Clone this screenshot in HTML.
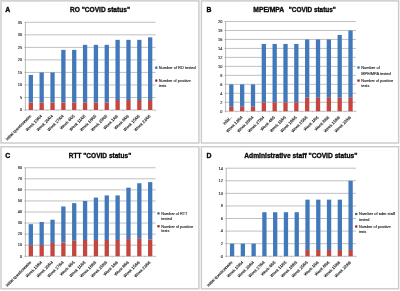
<!DOCTYPE html>
<html><head><meta charset="utf-8"><title>COVID status</title>
<style>
html,body{margin:0;padding:0;background:#fff;}
body{width:400px;height:291px;overflow:hidden;font-family:"Liberation Sans",sans-serif;}
svg{display:block;font-family:"Liberation Sans",sans-serif;}
</style></head><body>
<svg width="400" height="291" viewBox="0 0 400 291">
<defs><filter id="sf" x="0" y="0" width="400" height="291" filterUnits="userSpaceOnUse"><feGaussianBlur stdDeviation="0.32"/></filter></defs>
<rect x="0" y="0" width="400" height="291" fill="#ffffff"/>
<g filter="url(#sf)">
<g>
<rect x="1" y="0.9" width="197.9" height="142.1" fill="#fff" stroke="#cbcbcb" stroke-width="1.45"/>
<path d="M41 138.4H194.1V4.5H41" fill="none" stroke="#f9f9f9" stroke-width="0.6"/>
<text x="5.2" y="11.9" font-size="6.9" font-weight="bold" fill="#080808" stroke="#080808" stroke-width="0.35">A</text>
<text x="70" y="11.7" font-size="6.7" font-weight="bold" fill="#080808" stroke="#080808" stroke-width="0.32" textLength="60" lengthAdjust="spacingAndGlyphs">RO &quot;COVID status&quot;</text>
<line x1="24.4" y1="110" x2="155.6" y2="110" stroke="#b0b0b0" stroke-width="0.8"/>
<text x="22.1" y="111.3" font-size="3.9" text-anchor="end" fill="#242424" stroke="#242424" stroke-width="0.12">0</text>
<line x1="24.4" y1="97.47" x2="155.6" y2="97.47" stroke="#b0b0b0" stroke-width="0.8"/>
<text x="22.1" y="98.77" font-size="3.9" text-anchor="end" fill="#242424" stroke="#242424" stroke-width="0.12">5</text>
<line x1="24.4" y1="84.94" x2="155.6" y2="84.94" stroke="#b0b0b0" stroke-width="0.8"/>
<text x="22.1" y="86.24" font-size="3.9" text-anchor="end" fill="#242424" stroke="#242424" stroke-width="0.12">10</text>
<line x1="24.4" y1="72.41" x2="155.6" y2="72.41" stroke="#b0b0b0" stroke-width="0.8"/>
<text x="22.1" y="73.71" font-size="3.9" text-anchor="end" fill="#242424" stroke="#242424" stroke-width="0.12">15</text>
<line x1="24.4" y1="59.89" x2="155.6" y2="59.89" stroke="#b0b0b0" stroke-width="0.8"/>
<text x="22.1" y="61.19" font-size="3.9" text-anchor="end" fill="#242424" stroke="#242424" stroke-width="0.12">20</text>
<line x1="24.4" y1="47.36" x2="155.6" y2="47.36" stroke="#b0b0b0" stroke-width="0.8"/>
<text x="22.1" y="48.66" font-size="3.9" text-anchor="end" fill="#242424" stroke="#242424" stroke-width="0.12">25</text>
<line x1="24.4" y1="34.83" x2="155.6" y2="34.83" stroke="#b0b0b0" stroke-width="0.8"/>
<text x="22.1" y="36.13" font-size="3.9" text-anchor="end" fill="#242424" stroke="#242424" stroke-width="0.12">30</text>
<line x1="24.4" y1="22.3" x2="155.6" y2="22.3" stroke="#b0b0b0" stroke-width="0.8"/>
<text x="22.1" y="23.6" font-size="3.9" text-anchor="end" fill="#242424" stroke="#242424" stroke-width="0.12">35</text>
<line x1="25.4" y1="22.3" x2="25.4" y2="111" stroke="#8a8a8a" stroke-width="0.6"/>
<line x1="36.25" y1="110" x2="36.25" y2="111" stroke="#8a8a8a" stroke-width="0.5"/>
<rect x="28.68" y="74.92" width="4.3" height="27.56" fill="#4379ba"/>
<rect x="28.68" y="102.48" width="4.3" height="7.52" fill="#c34641"/>
<text transform="translate(30.72 115.5) rotate(-45)" x="0" y="1.2" font-size="4" text-anchor="end" fill="#242424" stroke="#242424" stroke-width="0.15">Initial questionnaire</text>
<line x1="47.1" y1="110" x2="47.1" y2="111" stroke="#8a8a8a" stroke-width="0.5"/>
<rect x="39.52" y="72.41" width="4.3" height="30.07" fill="#4379ba"/>
<rect x="39.52" y="102.48" width="4.3" height="7.52" fill="#c34641"/>
<text transform="translate(41.57 115.5) rotate(-45)" x="0" y="1.2" font-size="4" text-anchor="end" fill="#242424" stroke="#242424" stroke-width="0.15">Week 13/04</text>
<line x1="57.95" y1="110" x2="57.95" y2="111" stroke="#8a8a8a" stroke-width="0.5"/>
<rect x="50.38" y="72.41" width="4.3" height="30.07" fill="#4379ba"/>
<rect x="50.38" y="102.48" width="4.3" height="7.52" fill="#c34641"/>
<text transform="translate(52.42 115.5) rotate(-45)" x="0" y="1.2" font-size="4" text-anchor="end" fill="#242424" stroke="#242424" stroke-width="0.15">Week 20/04</text>
<line x1="68.8" y1="110" x2="68.8" y2="111" stroke="#8a8a8a" stroke-width="0.5"/>
<rect x="61.23" y="49.86" width="4.3" height="52.62" fill="#4379ba"/>
<rect x="61.23" y="102.48" width="4.3" height="7.52" fill="#c34641"/>
<text transform="translate(63.27 115.5) rotate(-45)" x="0" y="1.2" font-size="4" text-anchor="end" fill="#242424" stroke="#242424" stroke-width="0.15">Week 27/04</text>
<line x1="79.65" y1="110" x2="79.65" y2="111" stroke="#8a8a8a" stroke-width="0.5"/>
<rect x="72.07" y="49.86" width="4.3" height="52.62" fill="#4379ba"/>
<rect x="72.07" y="102.48" width="4.3" height="7.52" fill="#c34641"/>
<text transform="translate(74.12 115.5) rotate(-45)" x="0" y="1.2" font-size="4" text-anchor="end" fill="#242424" stroke="#242424" stroke-width="0.15">Week 4/05</text>
<line x1="90.5" y1="110" x2="90.5" y2="111" stroke="#8a8a8a" stroke-width="0.5"/>
<rect x="82.92" y="44.85" width="4.3" height="57.63" fill="#4379ba"/>
<rect x="82.92" y="102.48" width="4.3" height="7.52" fill="#c34641"/>
<text transform="translate(84.97 115.5) rotate(-45)" x="0" y="1.2" font-size="4" text-anchor="end" fill="#242424" stroke="#242424" stroke-width="0.15">Week 11/05</text>
<line x1="101.35" y1="110" x2="101.35" y2="111" stroke="#8a8a8a" stroke-width="0.5"/>
<rect x="93.77" y="44.85" width="4.3" height="57.63" fill="#4379ba"/>
<rect x="93.77" y="102.48" width="4.3" height="7.52" fill="#c34641"/>
<text transform="translate(95.82 115.5) rotate(-45)" x="0" y="1.2" font-size="4" text-anchor="end" fill="#242424" stroke="#242424" stroke-width="0.15">Week 18/05</text>
<line x1="112.2" y1="110" x2="112.2" y2="111" stroke="#8a8a8a" stroke-width="0.5"/>
<rect x="104.62" y="44.85" width="4.3" height="57.63" fill="#4379ba"/>
<rect x="104.62" y="102.48" width="4.3" height="7.52" fill="#c34641"/>
<text transform="translate(106.68 115.5) rotate(-45)" x="0" y="1.2" font-size="4" text-anchor="end" fill="#242424" stroke="#242424" stroke-width="0.15">Week 25/05</text>
<line x1="123.05" y1="110" x2="123.05" y2="111" stroke="#8a8a8a" stroke-width="0.5"/>
<rect x="115.47" y="39.84" width="4.3" height="60.14" fill="#4379ba"/>
<rect x="115.47" y="99.98" width="4.3" height="10.02" fill="#c34641"/>
<text transform="translate(117.53 115.5) rotate(-45)" x="0" y="1.2" font-size="4" text-anchor="end" fill="#242424" stroke="#242424" stroke-width="0.15">Week 1/06</text>
<line x1="133.9" y1="110" x2="133.9" y2="111" stroke="#8a8a8a" stroke-width="0.5"/>
<rect x="126.32" y="39.84" width="4.3" height="60.14" fill="#4379ba"/>
<rect x="126.32" y="99.98" width="4.3" height="10.02" fill="#c34641"/>
<text transform="translate(128.38 115.5) rotate(-45)" x="0" y="1.2" font-size="4" text-anchor="end" fill="#242424" stroke="#242424" stroke-width="0.15">Week 8/06</text>
<line x1="144.75" y1="110" x2="144.75" y2="111" stroke="#8a8a8a" stroke-width="0.5"/>
<rect x="137.17" y="39.84" width="4.3" height="60.14" fill="#4379ba"/>
<rect x="137.17" y="99.98" width="4.3" height="10.02" fill="#c34641"/>
<text transform="translate(139.22 115.5) rotate(-45)" x="0" y="1.2" font-size="4" text-anchor="end" fill="#242424" stroke="#242424" stroke-width="0.15">Week 15/06</text>
<line x1="155.6" y1="110" x2="155.6" y2="111" stroke="#8a8a8a" stroke-width="0.5"/>
<rect x="148.02" y="37.33" width="4.3" height="62.64" fill="#4379ba"/>
<rect x="148.02" y="99.98" width="4.3" height="10.02" fill="#c34641"/>
<text transform="translate(150.07 115.5) rotate(-45)" x="0" y="1.2" font-size="4" text-anchor="end" fill="#242424" stroke="#242424" stroke-width="0.15">Week 22/06</text>
<rect x="155.2" y="66.6" width="2.2" height="2.2" fill="#2f5f9e"/>
<text x="158.8" y="69" font-size="3.8" fill="#242424" stroke="#242424" stroke-width="0.12" textLength="36.8" lengthAdjust="spacingAndGlyphs">Number of RO tested</text>
<rect x="155.2" y="79.5" width="2.2" height="2.2" fill="#901f1c"/>
<text x="158.8" y="81.9" font-size="3.8" fill="#242424" stroke="#242424" stroke-width="0.12" textLength="31.8" lengthAdjust="spacingAndGlyphs">Number of positive</text>
<text x="158.8" y="86.7" font-size="3.8" fill="#242424" stroke="#242424" stroke-width="0.12" textLength="7.5" lengthAdjust="spacingAndGlyphs">tests</text>
</g>
<g>
<rect x="201.4" y="0.9" width="197.2" height="142.1" fill="#fff" stroke="#cbcbcb" stroke-width="1.45"/>
<path d="M241.4 138.4H393.8V4.5H241.4" fill="none" stroke="#f9f9f9" stroke-width="0.6"/>
<text x="206.5" y="12.1" font-size="6.9" font-weight="bold" fill="#080808" stroke="#080808" stroke-width="0.35">B</text>
<text x="253.3" y="11.9" font-size="6.7" font-weight="bold" fill="#080808" stroke="#080808" stroke-width="0.32" textLength="30.9" lengthAdjust="spacingAndGlyphs">MPE/MPA</text>
<text x="288.7" y="11.9" font-size="6.7" font-weight="bold" fill="#080808" stroke="#080808" stroke-width="0.32" textLength="47.2" lengthAdjust="spacingAndGlyphs">&quot;COVID status&quot;</text>
<line x1="224.6" y1="111.25" x2="355.95" y2="111.25" stroke="#b0b0b0" stroke-width="0.8"/>
<text x="222.3" y="112.55" font-size="3.9" text-anchor="end" fill="#242424" stroke="#242424" stroke-width="0.12">0</text>
<line x1="224.6" y1="102.28" x2="355.95" y2="102.28" stroke="#b0b0b0" stroke-width="0.8"/>
<text x="222.3" y="103.58" font-size="3.9" text-anchor="end" fill="#242424" stroke="#242424" stroke-width="0.12">2</text>
<line x1="224.6" y1="93.3" x2="355.95" y2="93.3" stroke="#b0b0b0" stroke-width="0.8"/>
<text x="222.3" y="94.6" font-size="3.9" text-anchor="end" fill="#242424" stroke="#242424" stroke-width="0.12">4</text>
<line x1="224.6" y1="84.33" x2="355.95" y2="84.33" stroke="#b0b0b0" stroke-width="0.8"/>
<text x="222.3" y="85.62" font-size="3.9" text-anchor="end" fill="#242424" stroke="#242424" stroke-width="0.12">6</text>
<line x1="224.6" y1="75.35" x2="355.95" y2="75.35" stroke="#b0b0b0" stroke-width="0.8"/>
<text x="222.3" y="76.65" font-size="3.9" text-anchor="end" fill="#242424" stroke="#242424" stroke-width="0.12">8</text>
<line x1="224.6" y1="66.38" x2="355.95" y2="66.38" stroke="#b0b0b0" stroke-width="0.8"/>
<text x="222.3" y="67.67" font-size="3.9" text-anchor="end" fill="#242424" stroke="#242424" stroke-width="0.12">10</text>
<line x1="224.6" y1="57.4" x2="355.95" y2="57.4" stroke="#b0b0b0" stroke-width="0.8"/>
<text x="222.3" y="58.7" font-size="3.9" text-anchor="end" fill="#242424" stroke="#242424" stroke-width="0.12">12</text>
<line x1="224.6" y1="48.43" x2="355.95" y2="48.43" stroke="#b0b0b0" stroke-width="0.8"/>
<text x="222.3" y="49.73" font-size="3.9" text-anchor="end" fill="#242424" stroke="#242424" stroke-width="0.12">14</text>
<line x1="224.6" y1="39.45" x2="355.95" y2="39.45" stroke="#b0b0b0" stroke-width="0.8"/>
<text x="222.3" y="40.75" font-size="3.9" text-anchor="end" fill="#242424" stroke="#242424" stroke-width="0.12">16</text>
<line x1="224.6" y1="30.48" x2="355.95" y2="30.48" stroke="#b0b0b0" stroke-width="0.8"/>
<text x="222.3" y="31.78" font-size="3.9" text-anchor="end" fill="#242424" stroke="#242424" stroke-width="0.12">18</text>
<line x1="224.6" y1="21.5" x2="355.95" y2="21.5" stroke="#b0b0b0" stroke-width="0.8"/>
<text x="222.3" y="22.8" font-size="3.9" text-anchor="end" fill="#242424" stroke="#242424" stroke-width="0.12">20</text>
<line x1="225.6" y1="21.5" x2="225.6" y2="112.25" stroke="#8a8a8a" stroke-width="0.6"/>
<line x1="236.74" y1="111.25" x2="236.74" y2="112.25" stroke="#8a8a8a" stroke-width="0.5"/>
<rect x="229.17" y="84.33" width="4.3" height="22.44" fill="#4379ba"/>
<rect x="229.17" y="106.76" width="4.3" height="4.49" fill="#c34641"/>
<text transform="translate(231.22 116.75) rotate(-45)" x="0" y="1.2" font-size="4" text-anchor="end" fill="#242424" stroke="#242424" stroke-width="0.15" textLength="10.6" lengthAdjust="spacingAndGlyphs">Initial...</text>
<line x1="247.57" y1="111.25" x2="247.57" y2="112.25" stroke="#8a8a8a" stroke-width="0.5"/>
<rect x="240.01" y="84.33" width="4.3" height="22.44" fill="#4379ba"/>
<rect x="240.01" y="106.76" width="4.3" height="4.49" fill="#c34641"/>
<text transform="translate(242.06 116.75) rotate(-45)" x="0" y="1.2" font-size="4" text-anchor="end" fill="#242424" stroke="#242424" stroke-width="0.15">Week 13/04</text>
<line x1="258.41" y1="111.25" x2="258.41" y2="112.25" stroke="#8a8a8a" stroke-width="0.5"/>
<rect x="250.84" y="84.33" width="4.3" height="22.44" fill="#4379ba"/>
<rect x="250.84" y="106.76" width="4.3" height="4.49" fill="#c34641"/>
<text transform="translate(252.89 116.75) rotate(-45)" x="0" y="1.2" font-size="4" text-anchor="end" fill="#242424" stroke="#242424" stroke-width="0.15">Week 20/04</text>
<line x1="269.25" y1="111.25" x2="269.25" y2="112.25" stroke="#8a8a8a" stroke-width="0.5"/>
<rect x="261.68" y="43.94" width="4.3" height="58.34" fill="#4379ba"/>
<rect x="261.68" y="102.28" width="4.3" height="8.97" fill="#c34641"/>
<text transform="translate(263.73 116.75) rotate(-45)" x="0" y="1.2" font-size="4" text-anchor="end" fill="#242424" stroke="#242424" stroke-width="0.15">Week 27/04</text>
<line x1="280.09" y1="111.25" x2="280.09" y2="112.25" stroke="#8a8a8a" stroke-width="0.5"/>
<rect x="272.52" y="43.94" width="4.3" height="58.34" fill="#4379ba"/>
<rect x="272.52" y="102.28" width="4.3" height="8.97" fill="#c34641"/>
<text transform="translate(274.57 116.75) rotate(-45)" x="0" y="1.2" font-size="4" text-anchor="end" fill="#242424" stroke="#242424" stroke-width="0.15">Week 4/05</text>
<line x1="290.93" y1="111.25" x2="290.93" y2="112.25" stroke="#8a8a8a" stroke-width="0.5"/>
<rect x="283.36" y="43.94" width="4.3" height="58.34" fill="#4379ba"/>
<rect x="283.36" y="102.28" width="4.3" height="8.97" fill="#c34641"/>
<text transform="translate(285.41 116.75) rotate(-45)" x="0" y="1.2" font-size="4" text-anchor="end" fill="#242424" stroke="#242424" stroke-width="0.15">Week 11/05</text>
<line x1="301.76" y1="111.25" x2="301.76" y2="112.25" stroke="#8a8a8a" stroke-width="0.5"/>
<rect x="294.19" y="43.94" width="4.3" height="58.34" fill="#4379ba"/>
<rect x="294.19" y="102.28" width="4.3" height="8.97" fill="#c34641"/>
<text transform="translate(296.24 116.75) rotate(-45)" x="0" y="1.2" font-size="4" text-anchor="end" fill="#242424" stroke="#242424" stroke-width="0.15">Week 18/05</text>
<line x1="312.6" y1="111.25" x2="312.6" y2="112.25" stroke="#8a8a8a" stroke-width="0.5"/>
<rect x="305.03" y="39.45" width="4.3" height="58.34" fill="#4379ba"/>
<rect x="305.03" y="97.79" width="4.3" height="13.46" fill="#c34641"/>
<text transform="translate(307.08 116.75) rotate(-45)" x="0" y="1.2" font-size="4" text-anchor="end" fill="#242424" stroke="#242424" stroke-width="0.15">Week 25/05</text>
<line x1="323.44" y1="111.25" x2="323.44" y2="112.25" stroke="#8a8a8a" stroke-width="0.5"/>
<rect x="315.87" y="39.45" width="4.3" height="58.34" fill="#4379ba"/>
<rect x="315.87" y="97.79" width="4.3" height="13.46" fill="#c34641"/>
<text transform="translate(317.92 116.75) rotate(-45)" x="0" y="1.2" font-size="4" text-anchor="end" fill="#242424" stroke="#242424" stroke-width="0.15">Week 1/06</text>
<line x1="334.27" y1="111.25" x2="334.27" y2="112.25" stroke="#8a8a8a" stroke-width="0.5"/>
<rect x="326.71" y="39.45" width="4.3" height="58.34" fill="#4379ba"/>
<rect x="326.71" y="97.79" width="4.3" height="13.46" fill="#c34641"/>
<text transform="translate(328.76 116.75) rotate(-45)" x="0" y="1.2" font-size="4" text-anchor="end" fill="#242424" stroke="#242424" stroke-width="0.15">Week 8/06</text>
<line x1="345.11" y1="111.25" x2="345.11" y2="112.25" stroke="#8a8a8a" stroke-width="0.5"/>
<rect x="337.54" y="34.96" width="4.3" height="62.82" fill="#4379ba"/>
<rect x="337.54" y="97.79" width="4.3" height="13.46" fill="#c34641"/>
<text transform="translate(339.59 116.75) rotate(-45)" x="0" y="1.2" font-size="4" text-anchor="end" fill="#242424" stroke="#242424" stroke-width="0.15">Week 15/06</text>
<line x1="355.95" y1="111.25" x2="355.95" y2="112.25" stroke="#8a8a8a" stroke-width="0.5"/>
<rect x="348.38" y="30.48" width="4.3" height="67.31" fill="#4379ba"/>
<rect x="348.38" y="97.79" width="4.3" height="13.46" fill="#c34641"/>
<text transform="translate(350.43 116.75) rotate(-45)" x="0" y="1.2" font-size="4" text-anchor="end" fill="#242424" stroke="#242424" stroke-width="0.15">Week 22/06</text>
<rect x="357.4" y="66.4" width="2.2" height="2.2" fill="#2f5f9e"/>
<text x="361.25" y="68.8" font-size="3.8" fill="#242424" stroke="#242424" stroke-width="0.12" textLength="18.5" lengthAdjust="spacingAndGlyphs">Number of</text>
<text x="361.25" y="74.5" font-size="3.8" fill="#242424" stroke="#242424" stroke-width="0.12" textLength="29.4" lengthAdjust="spacingAndGlyphs">MPE/MPA tested</text>
<rect x="357.4" y="79.5" width="2.2" height="2.2" fill="#901f1c"/>
<text x="361.25" y="81.9" font-size="3.8" fill="#242424" stroke="#242424" stroke-width="0.12" textLength="31.8" lengthAdjust="spacingAndGlyphs">Number of positive</text>
<text x="361.25" y="86.7" font-size="3.8" fill="#242424" stroke="#242424" stroke-width="0.12" textLength="8.1" lengthAdjust="spacingAndGlyphs">tests</text>
</g>
<g>
<rect x="1" y="146.8" width="197.9" height="142" fill="#fff" stroke="#cbcbcb" stroke-width="1.45"/>
<path d="M41 284.2H194.1V150.4H41" fill="none" stroke="#f9f9f9" stroke-width="0.6"/>
<text x="5.2" y="158.2" font-size="6.9" font-weight="bold" fill="#080808" stroke="#080808" stroke-width="0.35">C</text>
<text x="68.75" y="158" font-size="6.7" font-weight="bold" fill="#080808" stroke="#080808" stroke-width="0.32" textLength="62.5" lengthAdjust="spacingAndGlyphs">RTT &quot;COVID status&quot;</text>
<line x1="24.4" y1="256.25" x2="155.6" y2="256.25" stroke="#b0b0b0" stroke-width="0.8"/>
<text x="22.1" y="257.55" font-size="3.9" text-anchor="end" fill="#242424" stroke="#242424" stroke-width="0.12">0</text>
<line x1="24.4" y1="245.19" x2="155.6" y2="245.19" stroke="#b0b0b0" stroke-width="0.8"/>
<text x="22.1" y="246.49" font-size="3.9" text-anchor="end" fill="#242424" stroke="#242424" stroke-width="0.12">10</text>
<line x1="24.4" y1="234.12" x2="155.6" y2="234.12" stroke="#b0b0b0" stroke-width="0.8"/>
<text x="22.1" y="235.43" font-size="3.9" text-anchor="end" fill="#242424" stroke="#242424" stroke-width="0.12">20</text>
<line x1="24.4" y1="223.06" x2="155.6" y2="223.06" stroke="#b0b0b0" stroke-width="0.8"/>
<text x="22.1" y="224.36" font-size="3.9" text-anchor="end" fill="#242424" stroke="#242424" stroke-width="0.12">30</text>
<line x1="24.4" y1="212" x2="155.6" y2="212" stroke="#b0b0b0" stroke-width="0.8"/>
<text x="22.1" y="213.3" font-size="3.9" text-anchor="end" fill="#242424" stroke="#242424" stroke-width="0.12">40</text>
<line x1="24.4" y1="200.94" x2="155.6" y2="200.94" stroke="#b0b0b0" stroke-width="0.8"/>
<text x="22.1" y="202.24" font-size="3.9" text-anchor="end" fill="#242424" stroke="#242424" stroke-width="0.12">50</text>
<line x1="24.4" y1="189.88" x2="155.6" y2="189.88" stroke="#b0b0b0" stroke-width="0.8"/>
<text x="22.1" y="191.18" font-size="3.9" text-anchor="end" fill="#242424" stroke="#242424" stroke-width="0.12">60</text>
<line x1="24.4" y1="178.81" x2="155.6" y2="178.81" stroke="#b0b0b0" stroke-width="0.8"/>
<text x="22.1" y="180.11" font-size="3.9" text-anchor="end" fill="#242424" stroke="#242424" stroke-width="0.12">70</text>
<line x1="24.4" y1="167.75" x2="155.6" y2="167.75" stroke="#b0b0b0" stroke-width="0.8"/>
<text x="22.1" y="169.05" font-size="3.9" text-anchor="end" fill="#242424" stroke="#242424" stroke-width="0.12">80</text>
<line x1="25.4" y1="167.75" x2="25.4" y2="257.25" stroke="#8a8a8a" stroke-width="0.6"/>
<line x1="36.25" y1="256.25" x2="36.25" y2="257.25" stroke="#8a8a8a" stroke-width="0.5"/>
<rect x="28.68" y="224.17" width="4.3" height="21.02" fill="#4379ba"/>
<rect x="28.68" y="245.19" width="4.3" height="11.06" fill="#c34641"/>
<text transform="translate(30.72 261.75) rotate(-45)" x="0" y="1.2" font-size="4" text-anchor="end" fill="#242424" stroke="#242424" stroke-width="0.15">Initial questionnaire</text>
<line x1="47.1" y1="256.25" x2="47.1" y2="257.25" stroke="#8a8a8a" stroke-width="0.5"/>
<rect x="39.52" y="221.96" width="4.3" height="23.01" fill="#4379ba"/>
<rect x="39.52" y="244.97" width="4.3" height="11.28" fill="#c34641"/>
<text transform="translate(41.57 261.75) rotate(-45)" x="0" y="1.2" font-size="4" text-anchor="end" fill="#242424" stroke="#242424" stroke-width="0.15">Week 13/04</text>
<line x1="57.95" y1="256.25" x2="57.95" y2="257.25" stroke="#8a8a8a" stroke-width="0.5"/>
<rect x="50.38" y="219.74" width="4.3" height="23.23" fill="#4379ba"/>
<rect x="50.38" y="242.97" width="4.3" height="13.27" fill="#c34641"/>
<text transform="translate(52.42 261.75) rotate(-45)" x="0" y="1.2" font-size="4" text-anchor="end" fill="#242424" stroke="#242424" stroke-width="0.15">Week 20/04</text>
<line x1="68.8" y1="256.25" x2="68.8" y2="257.25" stroke="#8a8a8a" stroke-width="0.5"/>
<rect x="61.23" y="206.47" width="4.3" height="36.06" fill="#4379ba"/>
<rect x="61.23" y="242.53" width="4.3" height="13.72" fill="#c34641"/>
<text transform="translate(63.27 261.75) rotate(-45)" x="0" y="1.2" font-size="4" text-anchor="end" fill="#242424" stroke="#242424" stroke-width="0.15">Week 27/04</text>
<line x1="79.65" y1="256.25" x2="79.65" y2="257.25" stroke="#8a8a8a" stroke-width="0.5"/>
<rect x="72.07" y="203.15" width="4.3" height="37.61" fill="#4379ba"/>
<rect x="72.07" y="240.76" width="4.3" height="15.49" fill="#c34641"/>
<text transform="translate(74.12 261.75) rotate(-45)" x="0" y="1.2" font-size="4" text-anchor="end" fill="#242424" stroke="#242424" stroke-width="0.15">Week 4/05</text>
<line x1="90.5" y1="256.25" x2="90.5" y2="257.25" stroke="#8a8a8a" stroke-width="0.5"/>
<rect x="82.92" y="200.94" width="4.3" height="39.05" fill="#4379ba"/>
<rect x="82.92" y="239.99" width="4.3" height="16.26" fill="#c34641"/>
<text transform="translate(84.97 261.75) rotate(-45)" x="0" y="1.2" font-size="4" text-anchor="end" fill="#242424" stroke="#242424" stroke-width="0.15">Week 11/05</text>
<line x1="101.35" y1="256.25" x2="101.35" y2="257.25" stroke="#8a8a8a" stroke-width="0.5"/>
<rect x="93.77" y="197.62" width="4.3" height="42.37" fill="#4379ba"/>
<rect x="93.77" y="239.99" width="4.3" height="16.26" fill="#c34641"/>
<text transform="translate(95.82 261.75) rotate(-45)" x="0" y="1.2" font-size="4" text-anchor="end" fill="#242424" stroke="#242424" stroke-width="0.15">Week 18/05</text>
<line x1="112.2" y1="256.25" x2="112.2" y2="257.25" stroke="#8a8a8a" stroke-width="0.5"/>
<rect x="104.62" y="195.41" width="4.3" height="44.58" fill="#4379ba"/>
<rect x="104.62" y="239.99" width="4.3" height="16.26" fill="#c34641"/>
<text transform="translate(106.68 261.75) rotate(-45)" x="0" y="1.2" font-size="4" text-anchor="end" fill="#242424" stroke="#242424" stroke-width="0.15">Week 25/05</text>
<line x1="123.05" y1="256.25" x2="123.05" y2="257.25" stroke="#8a8a8a" stroke-width="0.5"/>
<rect x="115.47" y="195.41" width="4.3" height="44.58" fill="#4379ba"/>
<rect x="115.47" y="239.99" width="4.3" height="16.26" fill="#c34641"/>
<text transform="translate(117.53 261.75) rotate(-45)" x="0" y="1.2" font-size="4" text-anchor="end" fill="#242424" stroke="#242424" stroke-width="0.15">Week 1/06</text>
<line x1="133.9" y1="256.25" x2="133.9" y2="257.25" stroke="#8a8a8a" stroke-width="0.5"/>
<rect x="126.32" y="187.66" width="4.3" height="51.44" fill="#4379ba"/>
<rect x="126.32" y="239.1" width="4.3" height="17.15" fill="#c34641"/>
<text transform="translate(128.38 261.75) rotate(-45)" x="0" y="1.2" font-size="4" text-anchor="end" fill="#242424" stroke="#242424" stroke-width="0.15">Week 8/06</text>
<line x1="144.75" y1="256.25" x2="144.75" y2="257.25" stroke="#8a8a8a" stroke-width="0.5"/>
<rect x="137.17" y="183.24" width="4.3" height="55.53" fill="#4379ba"/>
<rect x="137.17" y="238.77" width="4.3" height="17.48" fill="#c34641"/>
<text transform="translate(139.22 261.75) rotate(-45)" x="0" y="1.2" font-size="4" text-anchor="end" fill="#242424" stroke="#242424" stroke-width="0.15">Week 15/06</text>
<line x1="155.6" y1="256.25" x2="155.6" y2="257.25" stroke="#8a8a8a" stroke-width="0.5"/>
<rect x="148.02" y="182.13" width="4.3" height="57.41" fill="#4379ba"/>
<rect x="148.02" y="239.55" width="4.3" height="16.7" fill="#c34641"/>
<text transform="translate(150.07 261.75) rotate(-45)" x="0" y="1.2" font-size="4" text-anchor="end" fill="#242424" stroke="#242424" stroke-width="0.15">Week 22/06</text>
<rect x="157.4" y="212.3" width="2.2" height="2.2" fill="#2f5f9e"/>
<text x="161.25" y="214.7" font-size="3.8" fill="#242424" stroke="#242424" stroke-width="0.12" textLength="26.2" lengthAdjust="spacingAndGlyphs">Number of RTT</text>
<text x="161.25" y="220.3" font-size="3.8" fill="#242424" stroke="#242424" stroke-width="0.12" textLength="10.6" lengthAdjust="spacingAndGlyphs">tested</text>
<rect x="157.4" y="225.15" width="2.2" height="2.2" fill="#901f1c"/>
<text x="161.25" y="227.55" font-size="3.8" fill="#242424" stroke="#242424" stroke-width="0.12" textLength="31.8" lengthAdjust="spacingAndGlyphs">Number of positive</text>
<text x="161.25" y="232.35" font-size="3.8" fill="#242424" stroke="#242424" stroke-width="0.12" textLength="8.1" lengthAdjust="spacingAndGlyphs">tests</text>
</g>
<g>
<rect x="201.4" y="146.7" width="197.2" height="142.1" fill="#fff" stroke="#cbcbcb" stroke-width="1.45"/>
<path d="M241.4 284.2H393.8V150.3H241.4" fill="none" stroke="#f9f9f9" stroke-width="0.6"/>
<text x="206.5" y="158.2" font-size="6.9" font-weight="bold" fill="#080808" stroke="#080808" stroke-width="0.35">D</text>
<text x="244.25" y="158" font-size="6.7" font-weight="bold" fill="#080808" stroke="#080808" stroke-width="0.32" textLength="113.25" lengthAdjust="spacingAndGlyphs">Administrative staff &quot;COVID status&quot;</text>
<line x1="225.25" y1="256.25" x2="356" y2="256.25" stroke="#b0b0b0" stroke-width="0.8"/>
<text x="222.95" y="257.55" font-size="3.9" text-anchor="end" fill="#242424" stroke="#242424" stroke-width="0.12">0</text>
<line x1="225.25" y1="243.67" x2="356" y2="243.67" stroke="#b0b0b0" stroke-width="0.8"/>
<text x="222.95" y="244.97" font-size="3.9" text-anchor="end" fill="#242424" stroke="#242424" stroke-width="0.12">2</text>
<line x1="225.25" y1="231.09" x2="356" y2="231.09" stroke="#b0b0b0" stroke-width="0.8"/>
<text x="222.95" y="232.39" font-size="3.9" text-anchor="end" fill="#242424" stroke="#242424" stroke-width="0.12">4</text>
<line x1="225.25" y1="218.51" x2="356" y2="218.51" stroke="#b0b0b0" stroke-width="0.8"/>
<text x="222.95" y="219.81" font-size="3.9" text-anchor="end" fill="#242424" stroke="#242424" stroke-width="0.12">6</text>
<line x1="225.25" y1="205.94" x2="356" y2="205.94" stroke="#b0b0b0" stroke-width="0.8"/>
<text x="222.95" y="207.24" font-size="3.9" text-anchor="end" fill="#242424" stroke="#242424" stroke-width="0.12">8</text>
<line x1="225.25" y1="193.36" x2="356" y2="193.36" stroke="#b0b0b0" stroke-width="0.8"/>
<text x="222.95" y="194.66" font-size="3.9" text-anchor="end" fill="#242424" stroke="#242424" stroke-width="0.12">10</text>
<line x1="225.25" y1="180.78" x2="356" y2="180.78" stroke="#b0b0b0" stroke-width="0.8"/>
<text x="222.95" y="182.08" font-size="3.9" text-anchor="end" fill="#242424" stroke="#242424" stroke-width="0.12">12</text>
<line x1="225.25" y1="168.2" x2="356" y2="168.2" stroke="#b0b0b0" stroke-width="0.8"/>
<text x="222.95" y="169.5" font-size="3.9" text-anchor="end" fill="#242424" stroke="#242424" stroke-width="0.12">14</text>
<line x1="226.25" y1="168.2" x2="226.25" y2="257.25" stroke="#8a8a8a" stroke-width="0.6"/>
<line x1="237.47" y1="256.25" x2="237.47" y2="257.25" stroke="#8a8a8a" stroke-width="0.5"/>
<rect x="229.94" y="243.67" width="4.3" height="12.58" fill="#4379ba"/>
<text transform="translate(231.99 261.75) rotate(-45)" x="0" y="1.2" font-size="4" text-anchor="end" fill="#242424" stroke="#242424" stroke-width="0.15">Initial questionnaire</text>
<line x1="248.25" y1="256.25" x2="248.25" y2="257.25" stroke="#8a8a8a" stroke-width="0.5"/>
<rect x="240.71" y="243.67" width="4.3" height="12.58" fill="#4379ba"/>
<text transform="translate(242.76 261.75) rotate(-45)" x="0" y="1.2" font-size="4" text-anchor="end" fill="#242424" stroke="#242424" stroke-width="0.15">Week 13/04</text>
<line x1="259.02" y1="256.25" x2="259.02" y2="257.25" stroke="#8a8a8a" stroke-width="0.5"/>
<rect x="251.49" y="243.67" width="4.3" height="12.58" fill="#4379ba"/>
<text transform="translate(253.54 261.75) rotate(-45)" x="0" y="1.2" font-size="4" text-anchor="end" fill="#242424" stroke="#242424" stroke-width="0.15">Week 20/04</text>
<line x1="269.8" y1="256.25" x2="269.8" y2="257.25" stroke="#8a8a8a" stroke-width="0.5"/>
<rect x="262.26" y="212.22" width="4.3" height="44.03" fill="#4379ba"/>
<text transform="translate(264.31 261.75) rotate(-45)" x="0" y="1.2" font-size="4" text-anchor="end" fill="#242424" stroke="#242424" stroke-width="0.15">Week 27/04</text>
<line x1="280.57" y1="256.25" x2="280.57" y2="257.25" stroke="#8a8a8a" stroke-width="0.5"/>
<rect x="273.04" y="212.22" width="4.3" height="44.03" fill="#4379ba"/>
<text transform="translate(275.09 261.75) rotate(-45)" x="0" y="1.2" font-size="4" text-anchor="end" fill="#242424" stroke="#242424" stroke-width="0.15">Week 4/05</text>
<line x1="291.35" y1="256.25" x2="291.35" y2="257.25" stroke="#8a8a8a" stroke-width="0.5"/>
<rect x="283.81" y="212.22" width="4.3" height="44.03" fill="#4379ba"/>
<text transform="translate(285.86 261.75) rotate(-45)" x="0" y="1.2" font-size="4" text-anchor="end" fill="#242424" stroke="#242424" stroke-width="0.15">Week 11/05</text>
<line x1="302.12" y1="256.25" x2="302.12" y2="257.25" stroke="#8a8a8a" stroke-width="0.5"/>
<rect x="294.59" y="212.22" width="4.3" height="44.03" fill="#4379ba"/>
<text transform="translate(296.64 261.75) rotate(-45)" x="0" y="1.2" font-size="4" text-anchor="end" fill="#242424" stroke="#242424" stroke-width="0.15">Week 18/05</text>
<line x1="312.9" y1="256.25" x2="312.9" y2="257.25" stroke="#8a8a8a" stroke-width="0.5"/>
<rect x="305.36" y="199.65" width="4.3" height="50.31" fill="#4379ba"/>
<rect x="305.36" y="249.96" width="4.3" height="6.29" fill="#c34641"/>
<text transform="translate(307.41 261.75) rotate(-45)" x="0" y="1.2" font-size="4" text-anchor="end" fill="#242424" stroke="#242424" stroke-width="0.15">Week 25/05</text>
<line x1="323.68" y1="256.25" x2="323.68" y2="257.25" stroke="#8a8a8a" stroke-width="0.5"/>
<rect x="316.14" y="199.65" width="4.3" height="50.31" fill="#4379ba"/>
<rect x="316.14" y="249.96" width="4.3" height="6.29" fill="#c34641"/>
<text transform="translate(318.19 261.75) rotate(-45)" x="0" y="1.2" font-size="4" text-anchor="end" fill="#242424" stroke="#242424" stroke-width="0.15">Week 1/06</text>
<line x1="334.45" y1="256.25" x2="334.45" y2="257.25" stroke="#8a8a8a" stroke-width="0.5"/>
<rect x="326.91" y="199.65" width="4.3" height="50.31" fill="#4379ba"/>
<rect x="326.91" y="249.96" width="4.3" height="6.29" fill="#c34641"/>
<text transform="translate(328.96 261.75) rotate(-45)" x="0" y="1.2" font-size="4" text-anchor="end" fill="#242424" stroke="#242424" stroke-width="0.15">Week 8/06</text>
<line x1="345.23" y1="256.25" x2="345.23" y2="257.25" stroke="#8a8a8a" stroke-width="0.5"/>
<rect x="337.69" y="199.65" width="4.3" height="50.31" fill="#4379ba"/>
<rect x="337.69" y="249.96" width="4.3" height="6.29" fill="#c34641"/>
<text transform="translate(339.74 261.75) rotate(-45)" x="0" y="1.2" font-size="4" text-anchor="end" fill="#242424" stroke="#242424" stroke-width="0.15">Week 15/06</text>
<line x1="356" y1="256.25" x2="356" y2="257.25" stroke="#8a8a8a" stroke-width="0.5"/>
<rect x="348.46" y="180.78" width="4.3" height="69.18" fill="#4379ba"/>
<rect x="348.46" y="249.96" width="4.3" height="6.29" fill="#c34641"/>
<text transform="translate(350.51 261.75) rotate(-45)" x="0" y="1.2" font-size="4" text-anchor="end" fill="#242424" stroke="#242424" stroke-width="0.15">Week 22/06</text>
<rect x="355.15" y="212.9" width="2.2" height="2.2" fill="#2f5f9e"/>
<text x="359" y="215.3" font-size="3.8" fill="#242424" stroke="#242424" stroke-width="0.12" textLength="36" lengthAdjust="spacingAndGlyphs">Number of adm staff</text>
<text x="359" y="220.7" font-size="3.8" fill="#242424" stroke="#242424" stroke-width="0.12" textLength="10.4" lengthAdjust="spacingAndGlyphs">tested</text>
<rect x="355.15" y="225.4" width="2.2" height="2.2" fill="#901f1c"/>
<text x="359" y="227.8" font-size="3.8" fill="#242424" stroke="#242424" stroke-width="0.12" textLength="31.6" lengthAdjust="spacingAndGlyphs">Number of positive</text>
<text x="359" y="232.6" font-size="3.8" fill="#242424" stroke="#242424" stroke-width="0.12" textLength="7.25" lengthAdjust="spacingAndGlyphs">tests</text>
</g>
</g></svg></body></html>
